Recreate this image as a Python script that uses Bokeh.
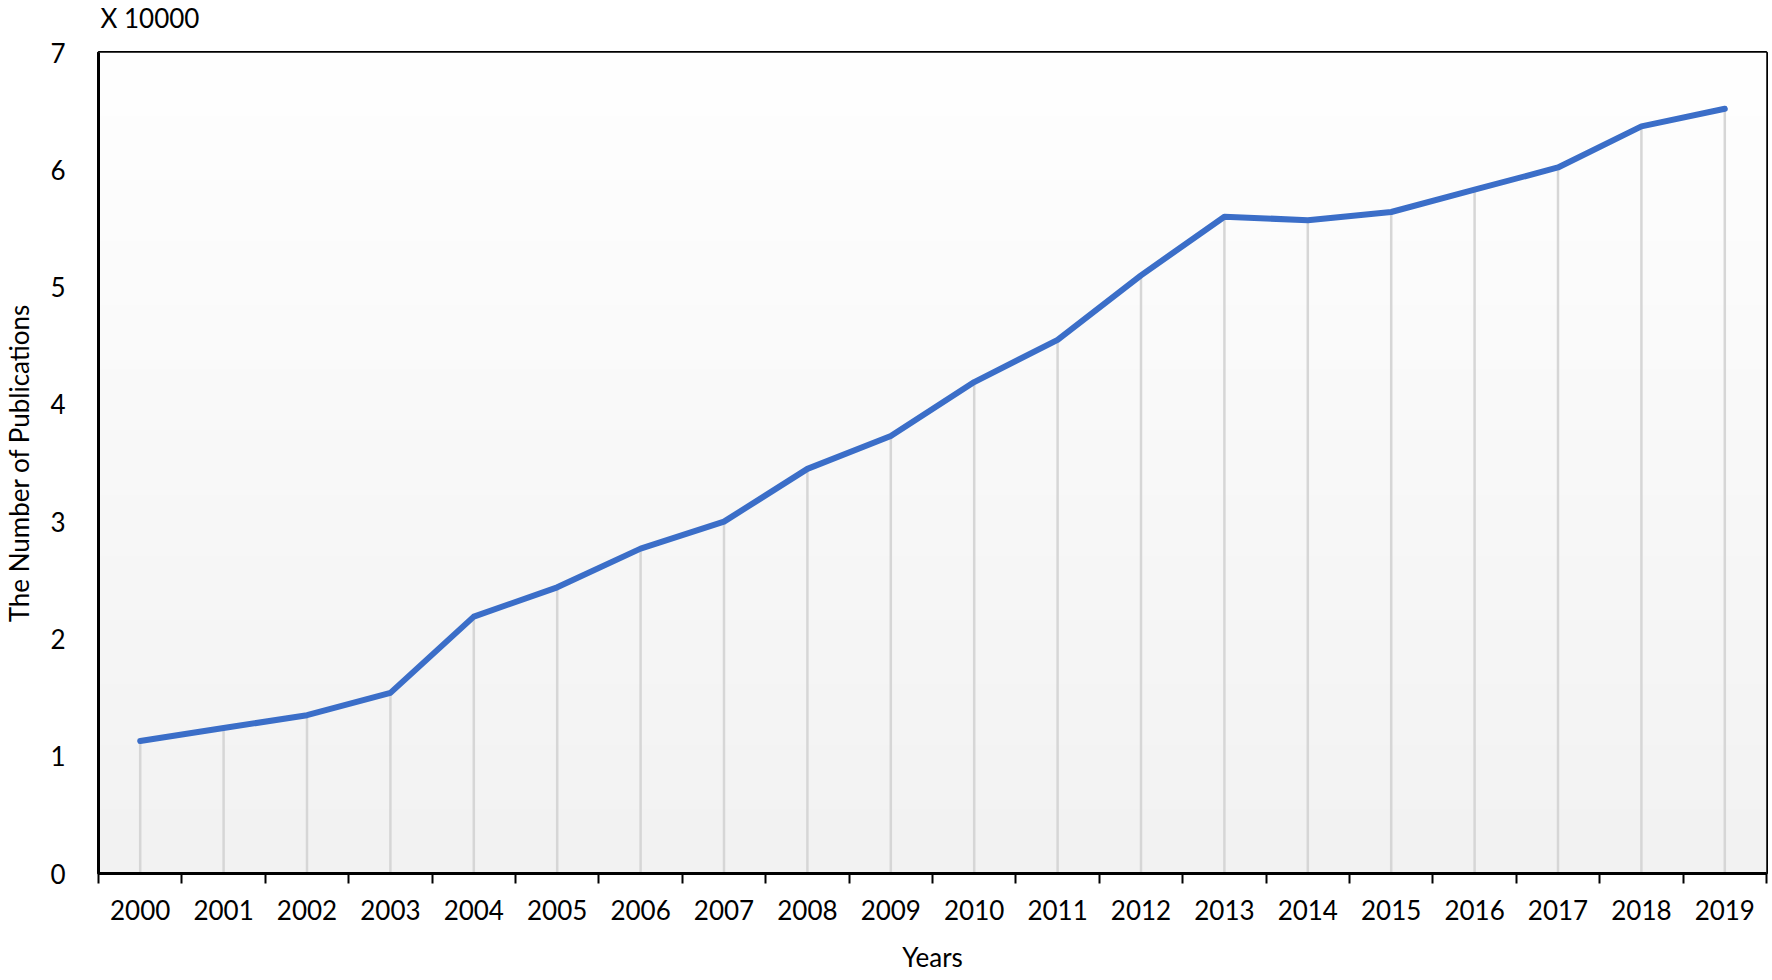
import numpy as np
from bokeh.plotting import figure
from bokeh.models import FixedTicker, Range1d
from bokeh.embed import file_html
from bokeh.resources import INLINE

# Data (number of publications, in units of 10,000)
years = [2000, 2001, 2002, 2003, 2004, 2005, 2006, 2007, 2008, 2009,
         2010, 2011, 2012, 2013, 2014, 2015, 2016, 2017, 2018, 2019]
publications = [1.13, 1.24, 1.35, 1.54, 2.19, 2.44, 2.77, 3.00, 3.45, 3.73,
                4.19, 4.55, 5.10, 5.60, 5.57, 5.64, 5.83, 6.02, 6.37, 6.52]
y_ticks = [0, 1, 2, 3, 4, 5, 6, 7]

FONT = "Lato"

x0, x1 = years[0] - 0.5, years[-1] + 0.5
y0, y1 = y_ticks[0], y_ticks[-1]

p = figure(
    width=1770, height=997,
    min_border_left=95, min_border_top=52, min_border_right=4, min_border_bottom=104,
    x_range=Range1d(x0, x1), y_range=Range1d(y0, y1),
    output_backend="svg", toolbar_location=None,
    background_fill_color="white", border_fill_color="white",
    title="X 10000",
)
p.margin = (-20, 0, 0, 0)

# title used as the multiplier note
p.title.align = "left"
p.title.vertical_align = "bottom"
p.title.offset = 2
p.title.standoff = 38
p.title.text_font = FONT
p.title.text_font_size = "26px"
p.title.text_font_style = "normal"
p.title.text_color = "black"

# gradient background (white at top -> light gray at bottom)
n = 256
g = np.linspace(242, 255, n).astype(np.uint8)
img = np.zeros((n, 1), dtype=np.uint32)
view = img.view(dtype=np.uint8).reshape((n, 1, 4))
view[:, 0, 0] = g
view[:, 0, 1] = g
view[:, 0, 2] = g
view[:, 0, 3] = 255
p.image_rgba(image=[img], x=x0, y=y0, dw=x1 - x0, dh=y1 - y0)

# drop lines
p.segment(x0=years, y0=[0] * len(years), x1=years, y1=publications,
          line_color="#d6d6d6", line_width=2.5)

# main line
p.line(years, publications, line_color="#3b6ec8", line_width=6,
       line_cap="round", line_join="round")

p.grid.visible = False
p.outline_line_color = "black"
p.outline_line_width = 3

# x axis
xa = p.xaxis[0]
xa.ticker = FixedTicker(ticks=years, minor_ticks=[y - 0.5 for y in years] + [years[-1] + 0.5])
xa.major_tick_line_color = None
xa.major_tick_in = 0
xa.major_tick_out = 0
xa.minor_tick_line_color = "black"
xa.minor_tick_line_width = 2
xa.minor_tick_in = 0
xa.minor_tick_out = 10
xa.axis_line_color = "black"
xa.axis_line_width = 3
xa.major_label_text_font = FONT
xa.major_label_text_font_size = "26px"
xa.major_label_text_color = "black"
xa.major_label_standoff = 16
xa.axis_label = "Years"
xa.axis_label_text_font = FONT
xa.axis_label_text_font_size = "26px"
xa.axis_label_text_font_style = "normal"
xa.axis_label_text_color = "black"
xa.axis_label_standoff = 18

# y axis
ya = p.yaxis[0]
ya.ticker = FixedTicker(ticks=y_ticks)
ya.major_tick_line_color = None
ya.major_tick_in = 0
ya.major_tick_out = 0
ya.minor_tick_line_color = None
ya.axis_line_color = "black"
ya.axis_line_width = 3
ya.major_label_text_font = FONT
ya.major_label_text_font_size = "26px"
ya.major_label_text_color = "black"
ya.major_label_standoff = 33
ya.axis_label = "The Number of Publications"
ya.axis_label_text_font = FONT
ya.axis_label_text_font_size = "26px"
ya.axis_label_text_font_style = "normal"
ya.axis_label_text_color = "black"
ya.axis_label_standoff = 12

open("out.html", "w").write(file_html(p, INLINE))
